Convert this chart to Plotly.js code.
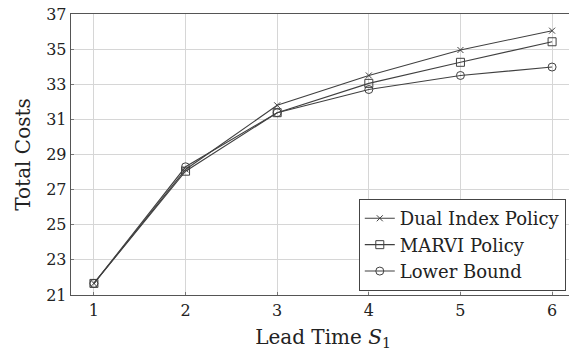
<!DOCTYPE html>
<html>
<head>
<meta charset="utf-8">
<script src="https://cdn.plot.ly/plotly-3.0.1.min.js"></script>
<style>
html, body { margin: 0; padding: 0; overflow: hidden; background: #fff; width: 569px; height: 352px; }
#chart { width: 580px; height: 352px; }
</style>
</head>
<body>
<div id="chart"></div>
<script>
const leadTime = [1, 2, 3, 4, 5, 6];
const dualIndex = [21.66, 28.15, 31.8, 33.5, 34.95, 36.05];
const marvi = [21.66, 28.05, 31.38, 33.05, 34.25, 35.42];
const lowerBound = [21.66, 28.3, 31.38, 32.7, 33.5, 33.98];
const seriesNames = ["Dual Index Policy", "MARVI Policy", "Lower Bound"];
const yTicks = [21, 23, 25, 27, 29, 31, 33, 35, 37];

const lineColor = "#404040";
const font = "DejaVu Serif";

function trace(y, name, symbol, size) {
  return {
    x: leadTime, y: y, name: name, type: "scatter", mode: "lines+markers",
    line: { color: lineColor, width: 1.1 },
    marker: { symbol: symbol, size: size, color: lineColor, line: { color: lineColor, width: 1 } }
  };
}

const data = [
  trace(dualIndex, seriesNames[0], "x-thin-open", 6),
  trace(marvi, seriesNames[1], "square-open", 8),
  trace(lowerBound, seriesNames[2], "circle-open", 8)
];

const layout = {
  width: 580, height: 352,
  margin: { l: 71, r: 5, t: 14, b: 57 },
  paper_bgcolor: "#fff", plot_bgcolor: "#fff",
  font: { family: font, color: "#222", size: 17 },
  showlegend: true,
  legend: {
    x: 0.571, y: 0.014, xanchor: "left", yanchor: "bottom",
    bgcolor: "#fff", bordercolor: "#444", borderwidth: 1,
    font: { family: font, size: 18, color: "#222" },
    tracegroupgap: 0, itemwidth: 30
  },
  xaxis: {
    range: [0.75, 6.25], tickvals: leadTime, ticktext: leadTime.map(String),
    showgrid: true, gridcolor: "#d6d6d6", gridwidth: 1,
    showline: true, linecolor: "#555", linewidth: 1.3, mirror: true,
    ticks: "inside", ticklen: 3, tickcolor: "#777",
    zeroline: false, tickfont: { family: font, size: 16, color: "#222" },
    title: { text: "Lead Time <i>S</i><sub>1</sub>", font: { family: font, size: 20, color: "#222" }, standoff: 11 }
  },
  yaxis: {
    range: [21, 37], tickvals: yTicks, ticktext: yTicks.map(String),
    showgrid: true, gridcolor: "#d6d6d6", gridwidth: 1,
    showline: true, linecolor: "#555", linewidth: 1.3, mirror: true,
    ticks: "inside", ticklen: 3, tickcolor: "#777",
    zeroline: false, tickfont: { family: font, size: 16, color: "#222" },
    title: { text: "Total Costs", font: { family: font, size: 20, color: "#222" }, standoff: 10 }
  }
};

Plotly.newPlot("chart", data, layout, { displayModeBar: false, staticPlot: true });
</script>
</body>
</html>
